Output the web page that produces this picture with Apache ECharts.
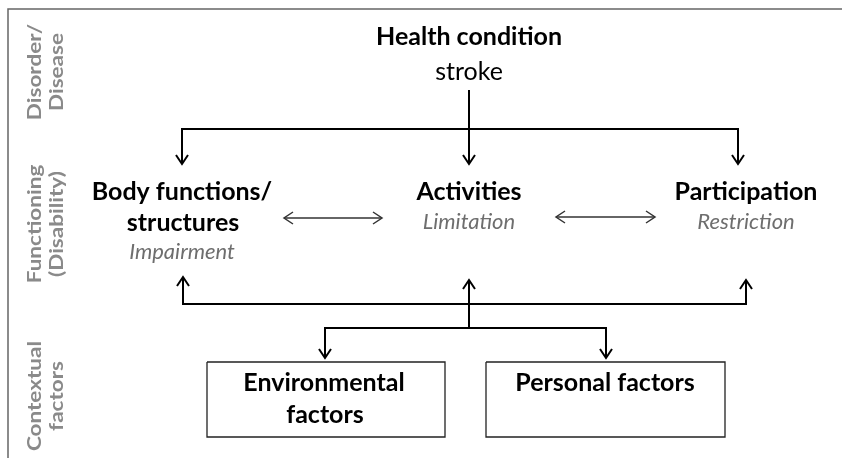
<!DOCTYPE html>
<html>
<head>
<meta charset="utf-8">
<title>ICF model - stroke</title>
<script src="https://cdn.jsdelivr.net/npm/echarts@6/dist/echarts.min.js"></script>
<style>
html, body { margin: 0; padding: 0; background: #fff; }
#chart { width: 842px; height: 458px; }
</style>
</head>
<body>
<div id="chart"></div>
<script>
// one entry per line of text in the diagram
var labelText = ['Health condition', 'stroke',
  'Body functions/', 'structures', 'Impairment',
  'Activities', 'Limitation',
  'Participation', 'Restriction',
  'Environmental', 'factors', 'Personal factors'];
var labelX = [469, 469, 182, 183, 182, 469, 469, 746, 746, 324, 325, 605];
var labelY = [37, 72, 192, 223, 252, 192, 222, 192, 222, 383, 415, 383];
var labelKind = ['head', 'sub', 'head', 'head', 'note', 'head', 'note', 'head', 'note', 'head', 'head', 'head'];

// connectors (polylines in diagram units), which ends carry an arrow head, and line kind
var linkPaths = [
  [[469, 90], [469, 164]],
  [[182, 164], [182, 129], [738, 129], [738, 164]],
  [[284, 218], [382, 218]],
  [[556, 217], [655, 217]],
  [[183, 277], [183, 304], [746, 304], [746, 280]],
  [[469, 328], [469, 280]],
  [[325, 358], [325, 328], [606, 328], [606, 358]],
  [[207, 362], [445, 362], [445, 437], [207, 437], [207, 362]],
  [[486, 362], [725, 362], [725, 437], [486, 437], [486, 362]]
];
var linkArrows = ['end', 'both', 'both', 'both', 'both', 'end', 'both', 'none', 'none'];
var linkKind = ['main', 'main', 'thin', 'thin', 'main', 'main', 'main', 'box', 'box'];

// rotated labels down the left side
var sideText = [['Disorder/', 'Disease'], ['Functioning', '(Disability)'], ['Contextual', 'factors']];
var sideY = [72, 224, 396];
var sideX = [35, 57];

var mainFont = 'Lato, "Open Sans", sans-serif';

var chart = echarts.init(document.getElementById('chart'));

var kindStyle = {
  head: { fontSize: 25, fontWeight: 'bold', fontStyle: 'normal', fill: '#000' },
  sub: { fontSize: 25, fontWeight: 'normal', fontStyle: 'normal', fill: '#000' },
  note: { fontSize: 22, fontWeight: 'normal', fontStyle: 'italic', fill: '#6e6e6e' }
};
var lineStyle = {
  main: { stroke: '#000', lineWidth: 2 },
  thin: { stroke: '#333', lineWidth: 1.5 },
  box: { stroke: '#222', lineWidth: 1.3 }
};

function chevron(tip, from, st) {
  var dx = tip[0] - from[0], dy = tip[1] - from[1];
  var len = Math.sqrt(dx * dx + dy * dy) || 1;
  dx /= len; dy /= len;
  var L = 9, W = 6;
  return {
    type: 'polyline',
    shape: { points: [
      [tip[0] - dx * L - dy * W, tip[1] - dy * L + dx * W],
      tip,
      [tip[0] - dx * L + dy * W, tip[1] - dy * L - dx * W]
    ] },
    style: { stroke: st.stroke, lineWidth: st.lineWidth, fill: null }
  };
}

var sideGraphics = [];
sideText.forEach(function (pair, i) {
  pair.forEach(function (t, j) {
    sideGraphics.push({
      type: 'text',
      x: sideX[j], y: sideY[i],
      rotation: Math.PI / 2,
      scaleX: 1.25,
      style: {
        text: t, fill: '#8a8a8a', fontSize: 18, fontWeight: 'bold',
        fontFamily: mainFont, align: 'center', verticalAlign: 'middle'
      }
    });
  });
});

var option = {
  animation: false,
  backgroundColor: '#fff',
  grid: { left: 0, right: 0, top: 0, bottom: 0 },
  xAxis: { type: 'value', min: 0, max: 842, show: false },
  yAxis: { type: 'value', min: 0, max: 458, inverse: true, show: false },
  graphic: [
    { type: 'polyline', shape: { points: [[842, 9], [8, 9], [8, 458]] },
      style: { stroke: '#666', lineWidth: 1.5, fill: null } }
  ].concat(sideGraphics),
  series: [
    {
      type: 'custom',
      name: 'links',
      silent: true,
      data: linkPaths.map(function (p, i) { return [p[0][0], p[0][1], i]; }),
      renderItem: function (params, api) {
        var i = api.value(2);
        var pts = linkPaths[i].map(function (p) { return api.coord(p); });
        var st = lineStyle[linkKind[i]];
        var kids = [{
          type: 'polyline',
          shape: { points: pts },
          style: { stroke: st.stroke, lineWidth: st.lineWidth, fill: null }
        }];
        var n = pts.length;
        if (linkArrows[i] === 'end' || linkArrows[i] === 'both') kids.push(chevron(pts[n - 1], pts[n - 2], st));
        if (linkArrows[i] === 'both') kids.push(chevron(pts[0], pts[1], st));
        return { type: 'group', children: kids };
      }
    },
    {
      type: 'custom',
      name: 'labels',
      silent: true,
      data: labelText.map(function (t, i) { return [labelX[i], labelY[i], i]; }),
      renderItem: function (params, api) {
        var i = api.value(2);
        var p = api.coord([api.value(0), api.value(1)]);
        var k = kindStyle[labelKind[i]];
        return {
          type: 'text',
          x: p[0], y: p[1],
          style: {
            text: labelText[i], fill: k.fill, fontSize: k.fontSize,
            fontWeight: k.fontWeight, fontStyle: k.fontStyle, fontFamily: mainFont,
            align: 'center', verticalAlign: 'middle'
          }
        };
      }
    }
  ]
};
chart.setOption(option);
</script>
</body>
</html>
